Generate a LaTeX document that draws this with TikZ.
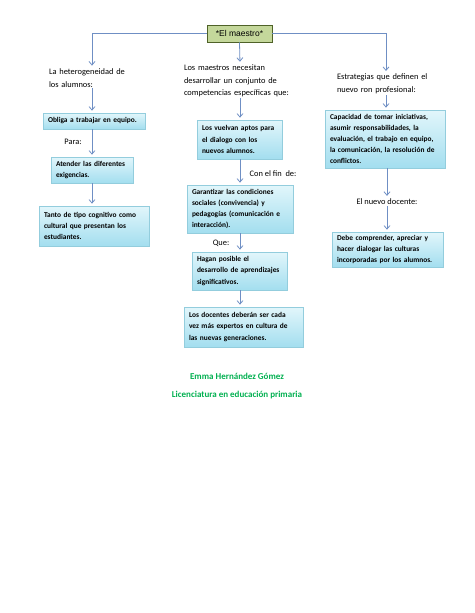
\documentclass[tikz,border=0pt]{standalone}
\usepackage{fontspec}
\setmainfont{Carlito}
\newfontfamily\arialfont{Liberation Sans}
\usetikzlibrary{arrows.meta, positioning, shadows, calc}
\definecolor{boxline}{HTML}{93CDDD}
\definecolor{boxtop}{HTML}{E2F6FB}
\definecolor{boxbottom}{HTML}{A3DEEF}
\definecolor{titlefill}{HTML}{C4D79B}
\definecolor{titleline}{HTML}{4F6228}
\definecolor{arrowblue}{HTML}{6F8FC4}
\definecolor{namegreen}{HTML}{00B050}

\begin{document}
\begin{tikzpicture}[
    x=1pt, y=-1pt,
    titlebox/.style={rectangle, draw=titleline, fill=titlefill, line width=0.8pt, minimum width=65pt, minimum height=17pt, inner sep=2pt, font=\arialfont\fontsize{8.5}{10}\selectfont},
    conceptbox/.style={rectangle, draw=boxline, line width=0.7pt, top color=boxtop, bottom color=boxbottom, align=left, inner xsep=5pt, inner ysep=3pt, font=\bfseries\fontsize{7.4}{11.2}\selectfont, drop shadow={opacity=0.25, shadow xshift=1.2pt, shadow yshift=-1.2pt}},
    plain/.style={align=left, inner sep=1pt, font=\fontsize{8.4}{12.5}\selectfont},
    linkword/.style={inner sep=1pt, font=\fontsize{8.4}{10}\selectfont},
    footer/.style={inner sep=1pt, text=namegreen, font=\bfseries\fontsize{9}{11}\selectfont},
    arrow/.style={-{Straight Barb[length=3.5pt, width=6pt]}, draw=arrowblue, line width=0.8pt, shorten >=2pt}
]
\useasboundingbox[fill=white] (0,0) rectangle (474,613);

% title
\node[titlebox] (maestro) at (239.5,33.5) {*El maestro*};

% first level
\node[plain, text width=86pt] (hetero) at (92,78) {La heterogeneidad de\\los alumnos:};
\node[plain, text width=112pt] (necesitan) at (240,81) {Los maestros necesitan\\desarrollar un conjunto de\\competencias específicas que:};
\node[plain, text width=98pt] (estrategias) at (386,84) {Estrategias que definen el\\nuevo ron profesional:};

% left column
\node[conceptbox, text width=92pt, minimum height=16pt] (obliga) at (94,121) {Obliga a trabajar en equipo.};
\node[linkword] (para) at (73,142) {Para:};
\node[conceptbox, text width=72pt, minimum height=26pt] (atender) at (92,170) {Atender las diferentes\\exigencias.};
\node[conceptbox, text width=100pt, minimum height=40pt] (tanto) at (94,226) {Tanto de tipo cognitivo como\\cultural que presentan los\\estudiantes.};

% middle column
\node[conceptbox, text width=75pt, minimum height=39pt] (aptos) at (239.5,139.5) {Los vuelvan aptos para\\el dialogo con los\\nuevos alumnos.};
\node[linkword] (confin) at (273,174) {Con el fin~~de:};
\node[conceptbox, text width=96pt, minimum height=48pt] (garantizar) at (240,209) {Garantizar las condiciones\\sociales (convivencia) y\\pedagogías (comunicación e\\interacción).};
\node[linkword] (que) at (221,243) {Que:};
\node[conceptbox, text width=85pt, minimum height=38pt] (hagan) at (239.5,271) {Hagan posible el\\desarrollo de aprendizajes\\significativos.};
\node[conceptbox, text width=109pt, minimum height=40pt] (docentes) at (243.5,327) {Los docentes deberán ser cada\\vez más expertos en cultura de\\las nuevas generaciones.};

% right column
\node[conceptbox, text width=110pt, minimum height=58pt] (capacidad) at (385,139) {Capacidad de tomar iniciativas,\\asumir responsabilidades, la\\evaluación, el trabajo en equipo,\\la comunicación, la resolución de\\conflictos.};
\node[linkword] (nuevo) at (387,202) {El nuevo docente:};
\node[conceptbox, text width=101pt, minimum height=35pt] (debe) at (387.5,249.5) {Debe comprender, apreciar y\\hacer dialogar las culturas\\incorporadas por los alumnos.};

% footer
\node[footer] (autora) at (237,376) {Emma Hernández Gómez};
\node[footer] (carrera) at (237,395) {Licenciatura en educación primaria};

% connectors
\draw[arrow] (maestro.west) -| (hetero.north);
\draw[arrow] (maestro.south) -- (necesitan.north);
\draw[arrow] (maestro.east) -| (estrategias.north);
\draw[arrow] (hetero.south) -- (hetero.south |- obliga.north);
\draw[arrow] (obliga.south -| hetero.south) -- (hetero.south |- atender.north);
\draw[arrow] (atender.south -| hetero.south) -- (hetero.south |- tanto.north);
\draw[arrow] (necesitan.south) -- (necesitan.south |- aptos.north);
\draw[arrow] (aptos.south -| necesitan.south) -- (necesitan.south |- garantizar.north);
\draw[arrow] (garantizar.south -| necesitan.south) -- (necesitan.south |- hagan.north);
\draw[arrow] (hagan.south -| necesitan.south) -- (necesitan.south |- docentes.north);
\draw[arrow] (estrategias.south) -- (estrategias.south |- capacidad.north);
\draw[arrow] (capacidad.south -| nuevo.north) -- (nuevo.north);
\draw[arrow] (nuevo.south) -- (nuevo.south |- debe.north);
\end{tikzpicture}
\end{document}
